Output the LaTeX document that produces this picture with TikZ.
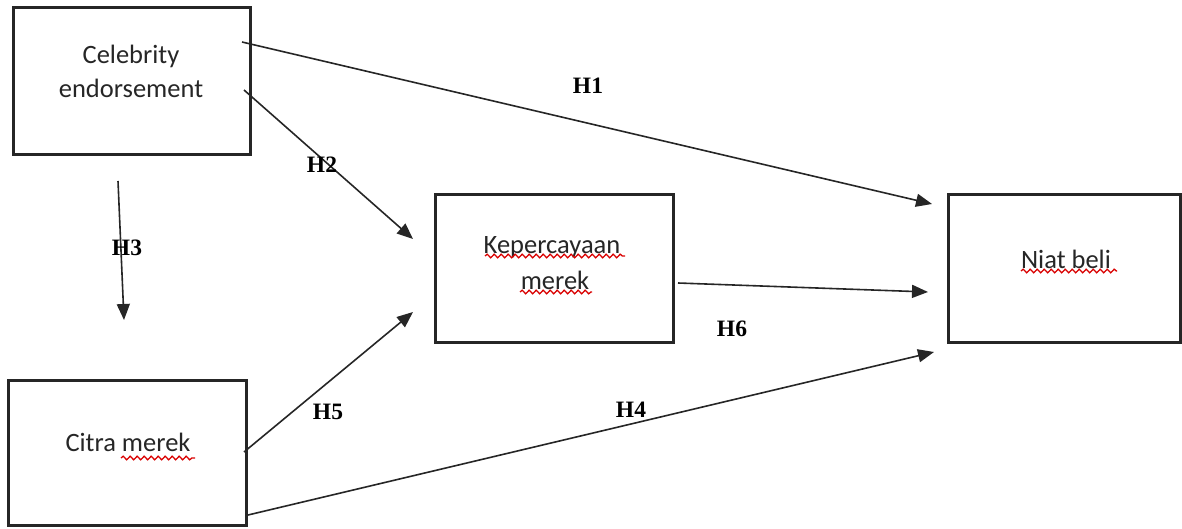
\documentclass[tikz,border=0pt]{standalone}
\usepackage{fontspec}
\setmainfont{Carlito}
\newfontfamily\labfont{Liberation Serif}
\usetikzlibrary{arrows.meta,decorations.pathmorphing}
\begin{document}
\begin{tikzpicture}[x=1pt,y=-1pt,
  box/.style={draw=black!85,line width=3pt,inner sep=0pt},
  txt/.style={font=\fontsize{26.5}{30}\selectfont,text=black!85,inner sep=0pt,anchor=base},
  hyp/.style={font=\labfont\bfseries\fontsize{23.5}{26}\selectfont,inner sep=0pt},
  conn/.style={draw=black!85,line width=1.6pt,-{Triangle[length=16pt,width=13pt]}},
  wavy/.style={draw=red!85!black,line width=1.3pt,decorate,decoration={snake,amplitude=1.8pt,segment length=7pt}}]
\useasboundingbox (0,0) rectangle (1182,529);
% boxes
\node[box,minimum width=237pt,minimum height=147pt] (cel) at (131.5,81) {};
\node[box,minimum width=238pt,minimum height=147pt] (kep) at (554,268.5) {};
\node[box,minimum width=232pt,minimum height=147pt] (niat) at (1064,268.5) {};
\node[box,minimum width=238pt,minimum height=145pt] (cit) at (127,452.5) {};
% texts
\node[txt] (t1) at (131,64) {Celebrity};
\node[txt] (t2) at (131,98) {endorsement};
\node[txt] (t3) at (552,254) {Kepercayaan};
\node[txt] (t4) at (555,289) {merek};
\node[txt] (t5) at (1066,269) {Niat beli};
\node[txt] (t6) at (128,451) {Citra merek};
% spell-check underlines
\coordinate (w3a) at (485,256); \coordinate (w3b) at (625,256);
\coordinate (w4a) at (520,292); \coordinate (w4b) at (592,292);
\coordinate (w5a) at (1021,271); \coordinate (w5b) at (1117,271);
\coordinate (w6a) at (121,458); \coordinate (w6b) at (195,458);
\draw[wavy] (w3a) -- (w3b);
\draw[wavy] (w4a) -- (w4b);
\draw[wavy] (w5a) -- (w5b);
\draw[wavy] (w6a) -- (w6b);
% connector ends
\coordinate (a1s) at (242,42);  \coordinate (a1e) at (932,204);
\coordinate (a2s) at (244,90);  \coordinate (a2e) at (413,239);
\coordinate (a3s) at (118,181); \coordinate (a3e) at (124,320);
\coordinate (a5s) at (244,452); \coordinate (a5e) at (413,312);
\coordinate (a6s) at (678,283); \coordinate (a6e) at (928,292);
\coordinate (a4s) at (248,515); \coordinate (a4e) at (934,352);
\draw[conn] (a1s) -- (a1e);
\draw[conn] (a2s) -- (a2e);
\draw[conn] (a3s) -- (a3e);
\draw[conn] (a5s) -- (a5e);
\draw[conn] (a6s) -- (a6e);
\draw[conn] (a4s) -- (a4e);
% labels
\node[hyp] (h1) at (588,86) {H1};
\node[hyp] (h2) at (322,165) {H2};
\node[hyp] (h3) at (127,248) {H3};
\node[hyp] (h5) at (328,412) {H5};
\node[hyp] (h6) at (732,329) {H6};
\node[hyp] (h4) at (631,410) {H4};
\end{tikzpicture}
\end{document}
